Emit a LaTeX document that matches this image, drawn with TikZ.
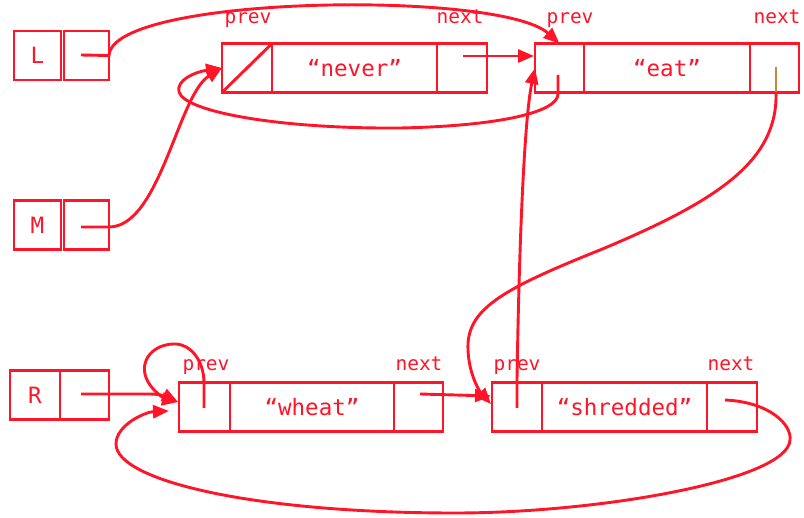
\documentclass[tikz,border=0pt]{standalone}
\usepackage{fontspec}
\setmonofont{DejaVu Sans Mono}
\usetikzlibrary{arrows.meta}
\definecolor{rd}{RGB}{255,20,40}
\definecolor{gd}{RGB}{190,140,60}
\begin{document}
\begin{tikzpicture}[x=1pt,y=-1pt,
  cell/.style={draw=rd,line width=2.9pt,minimum height=49,inner sep=0,outer sep=0,
    text=rd,font=\ttfamily\fontsize{22.5}{22.5}\selectfont},
  lbl/.style={text=rd,font=\ttfamily\fontsize{19.5}{19.5}\selectfont,anchor=base,inner sep=0},
  link/.style={draw=rd,line width=2.9pt},
  arr/.style={link,-{Triangle[length=16pt,width=13pt]}},
]
\useasboundingbox (0,0) rectangle (804,518);
% variables
\node[cell,minimum width=47] (Lname) at (37.5,55.5) {L};
\node[cell,minimum width=45] (Lptr) at (86.5,55.5) {};
\node[cell,minimum width=47] (Mname) at (37.5,225) {M};
\node[cell,minimum width=45] (Mptr) at (86.5,225) {};
\node[cell,minimum width=50] (Rname) at (35,395) {R};
\node[cell,minimum width=49] (Rptr) at (84.5,395) {};
% "never"
\node[cell,minimum width=50] (neverprev) at (247,68) {};
\node[cell,minimum width=165] (nevertxt) at (354.5,68) {“never”};
\node[cell,minimum width=50] (nevernext) at (462,68) {};
\draw[link] (neverprev.south west) -- (neverprev.north east);
% "eat"
\node[cell,minimum width=49] (eatprev) at (559.5,68) {};
\node[cell,minimum width=166] (eattxt) at (667,68) {“eat”};
\node[cell,minimum width=49] (eatnext) at (774.5,68) {};
% "wheat"
\node[cell,minimum width=51] (wheatprev) at (204.5,407) {};
\node[cell,minimum width=164] (wheattxt) at (312,407) {“wheat”};
\node[cell,minimum width=49] (wheatnext) at (418.5,407) {};
% "shredded"
\node[cell,minimum width=50] (shprev) at (517,407) {};
\node[cell,minimum width=165] (shtxt) at (624.5,407) {“shredded”};
\node[cell,minimum width=50] (shnext) at (732,407) {};
% labels
\node[lbl] (l1) at (248,24) {prev};
\node[lbl] (l2) at (460,24) {next};
\node[lbl] (l3) at (570,24) {prev};
\node[lbl] (l4) at (777,24) {next};
\node[lbl] (l5) at (206,371) {prev};
\node[lbl] (l6) at (419,371) {next};
\node[lbl] (l7) at (517,371) {prev};
\node[lbl] (l8) at (731,371) {next};
% coordinates
\coordinate (Ls) at (81,55);
\coordinate (Ms) at (81,227);
\coordinate (Rs) at (81,394);
\coordinate (nns) at (463,56);
\coordinate (nnt) at (534,56);
\coordinate (eps) at (558,75);
\coordinate (ens) at (776,67);
\coordinate (ene) at (776,92);
\coordinate (wps) at (204,408);
\coordinate (wpin) at (178,402);
\coordinate (wpin2) at (169,411);
\coordinate (wns) at (420,394);
\coordinate (shpin) at (491,404);
\coordinate (shpin2) at (491,396);
\coordinate (sps) at (517,408);
\coordinate (sns) at (725,400);
% connectors
\draw[arr] (Ls) -- (Lptr.east) .. controls (112,-5) and (500,-10) .. (eatprev.north);
\draw[arr] (nns) -- (nnt);
\draw[arr] (eps) -- (558,94) .. controls (558,112) and (500,126) .. (400,128)
  .. controls (280,129) and (185,112) .. (179,92)
  .. controls (176,80) and (195,72) .. (neverprev.west);
\draw[arr] (Ms) -- (Mptr.east |- Ms) .. controls (160,227) and (178,95) .. (neverprev.west);
\draw[gd,line width=2.9pt] (ens) -- (ene);
\draw[arr] (ene) .. controls (778,160) and (720,200) .. (600,250)
  .. controls (500,290) and (466,310) .. (468,350)
  .. controls (469,375) and (480,392) .. (shpin);
\draw[arr] (sps) -- (517,380) .. controls (519,250) and (524,120) .. (eatprev.west);
\draw[arr] (wns) -- (shpin2);
\draw[arr] (Rs) -- (150,394) .. controls (162,394) and (170,398) .. (wpin);
\draw[arr] (wps) -- (204,383) .. controls (204,360) and (190,343) .. (173,344)
  .. controls (150,345) and (136,365) .. (150,385)
  .. controls (157,395) and (168,400) .. (wpin);
\draw[arr] (sns) .. controls (770,402) and (792,425) .. (790,440)
  .. controls (788,480) and (600,513) .. (455,513)
  .. controls (250,513) and (116,480) .. (116,444)
  .. controls (116,425) and (145,412) .. (wpin2);
\end{tikzpicture}
\end{document}
